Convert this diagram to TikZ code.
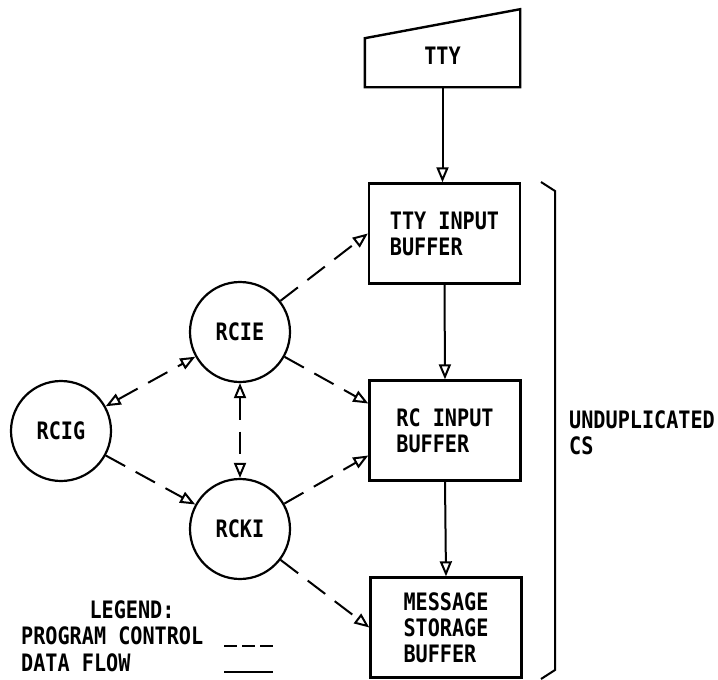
\documentclass[tikz,border=0pt]{standalone}
\usepackage{fontspec}
\setmainfont{DejaVu Sans Mono}[FakeStretch=0.84]
\usepackage{tikz}
\usetikzlibrary{arrows.meta,calc}

\begin{document}
\begin{tikzpicture}[x=1pt, y=1pt,
  >={Triangle[open, length=15pt, width=12pt]},
  lbl/.style={font=\fontsize{24}{26}\selectfont\bfseries, align=left, inner sep=0pt},
  bufbox/.style={lbl, draw, line width=2.4pt, minimum width=151pt, minimum height=100pt},
  proc/.style={lbl, draw, circle, line width=2.2pt, minimum size=100pt},
  ctrl/.style={line width=2pt, dash pattern=on 22pt off 12pt},
  flow/.style={line width=2pt}]
  \useasboundingbox (0,0) rectangle (718,-680);
  % ------- right: teletype and the three buffers -------
  \node[lbl, minimum width=155pt, minimum height=62pt] (tty) at (442.5,-56) {TTY};
  \draw[line width=2.4pt] (tty.south west) -- (tty.south east)
    -- ($(tty.south east)+(0,78)$) -- ($(tty.south west)+(0,49)$) -- cycle;
  \node[bufbox] (ttybuf) at (444.5,-233.5) {TTY INPUT\\BUFFER};
  \node[bufbox] (rcbuf) at (445,-430.5) {RC INPUT\\BUFFER};
  \node[bufbox] (msgbuf) at (446,-627.5) {MESSAGE\\STORAGE\\BUFFER};
  \draw[flow,->] (tty.south) -- (tty.south |- ttybuf.north);
  \draw[flow,->] (ttybuf.south) -- (rcbuf.north);
  \draw[flow,->] (rcbuf.south) -- (msgbuf.north);
  % ------- left: the three programs -------
  \node[proc] (rcie) at (240,-332) {RCIE};
  \node[proc] (rcig) at (61,-431) {RCIG};
  \node[proc] (rcki) at (240,-529) {RCKI};
  \draw[ctrl,->] (rcie) -- (ttybuf.west);
  \draw[ctrl,->] (rcie) -- ($(rcbuf.west)+(0,27)$);
  \draw[ctrl,<->] (rcig) -- (rcie);
  \draw[ctrl,<->] (rcie) -- (rcki);
  \draw[ctrl,->] (rcig) -- (rcki);
  \draw[ctrl,->] (rcki) -- ($(rcbuf.west)+(0,-25)$);
  \draw[ctrl,->] (rcki) -- (msgbuf.west);
  % ------- bracket round the buffers -------
  \draw[line width=2pt] (541,-182) -- (555,-191) -- (555,-670) -- (541,-679);
  \node[lbl, anchor=west] (cs) at (569,-433) {UNDUPLICATED\\CS};
  % ------- legend -------
  \node[lbl] (legend) at (132,-610) {LEGEND:};
  \node[lbl, anchor=west] (pc) at (21,-636) {PROGRAM CONTROL};
  \node[lbl, anchor=west] (df) at (21,-663) {DATA FLOW};
  \draw[flow, dash pattern=on 13pt off 5pt] (224,-646) -- (273,-646);
  \draw[flow] (224,-672) -- (273,-672);
\end{tikzpicture}
\end{document}
